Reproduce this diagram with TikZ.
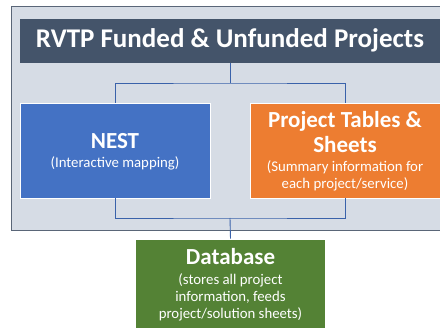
\documentclass[tikz,border=0pt]{standalone}
\usepackage{fontspec}
\setmainfont{Carlito}
\definecolor{panelfill}{HTML}{D6DCE5}
\definecolor{panelline}{HTML}{5A6678}
\definecolor{titlefill}{HTML}{44546A}
\definecolor{nestblue}{HTML}{4472C4}
\definecolor{orangefill}{HTML}{ED7D31}
\definecolor{dbgreen}{HTML}{548235}
\definecolor{connblue}{HTML}{3A62AA}
\tikzset{
  box/.style={draw=white, line width=0.8pt, inner sep=0pt},
  conn/.style={draw=connblue, line width=0.9pt},
  bigtxt/.style={text=white, anchor=base, inner sep=0pt, font=\fontsize{23}{27}\selectfont\bfseries},
  smalltxt/.style={text=white, anchor=base, inner sep=0pt, font=\fontsize{14.8}{17}\selectfont},
}
\begin{document}
\begin{tikzpicture}[x=1pt,y=-1pt]
\useasboundingbox (0,0) rectangle (440,328);
\clip (0,0) rectangle (440,328);
% background panel
\path[fill=panelfill, draw=panelline, line width=1pt] (11,7) rectangle (452,231);
% title
\node[box, draw=none, fill=titlefill, minimum width=420pt, minimum height=44pt] (title) at (230,41) {};
\node[text=white, anchor=base, inner sep=0pt, font=\fontsize{27}{32}\selectfont\bfseries] (titletxt) at (230,48) {RVTP Funded \& Unfunded Projects};
% NEST
\node[box, fill=nestblue, minimum width=190pt, minimum height=95pt] (nest) at (115,150.5) {};
\node[bigtxt] (nestt) at (115,149) {NEST};
\node[smalltxt] (nests) at (115,168) {(Interactive mapping)};
% Project tables
\node[box, fill=orangefill, minimum width=190pt, minimum height=95pt] (ptab) at (345,150.5) {};
\node[bigtxt] (ptabt1) at (345,128) {Project Tables \&};
\node[bigtxt] (ptabt2) at (345,153) {Sheets};
\node[smalltxt] (ptabs1) at (345,172) {(Summary information for};
\node[smalltxt] (ptabs2) at (345,188.5) {each project/service)};
% Database
\node[box, fill=dbgreen, minimum width=190pt, minimum height=100pt] (db) at (230.5,289) {};
\node[bigtxt] (dbt) at (230.5,265) {Database};
\node[smalltxt] (dbs1) at (230.5,285) {(stores all project};
\node[smalltxt] (dbs2) at (230.5,302) {information, feeds};
\node[smalltxt] (dbs3) at (230.5,318.5) {project/solution sheets)};
% connectors
\coordinate (tj) at (230,83);
\coordinate (bj) at (230,218);
\draw[conn] (title.south) -- (tj);
\draw[conn] (nest.north) |- (tj) -| (ptab.north);
\draw[conn] (nest.south) |- (bj) -| (ptab.south);
\draw[conn] (bj) -- (db.north);
\end{tikzpicture}
\end{document}
